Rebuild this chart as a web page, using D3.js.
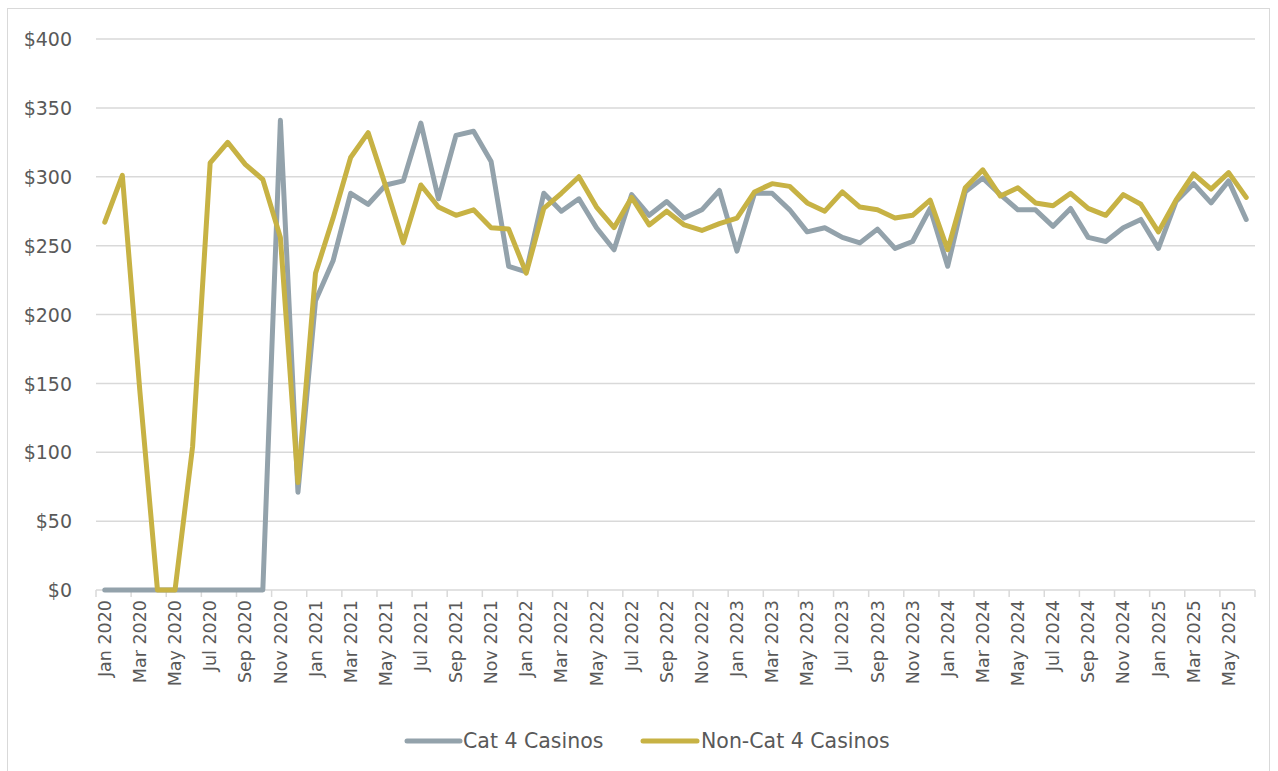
<!DOCTYPE html>
<html>
<head>
<meta charset="utf-8">
<script src="https://cdn.jsdelivr.net/npm/d3@7/dist/d3.min.js"></script>
<style>
  html, body { margin: 0; padding: 0; background: #fff; }
  svg { display: block; font-family: "DejaVu Sans", "Open Sans", sans-serif; }
</style>
</head>
<body>
<svg id="chart" width="1278" height="771"></svg>
<script>
// Monthly categories, Jan 2020 – Jun 2025
const monthNames = ["Jan","Feb","Mar","Apr","May","Jun","Jul","Aug","Sep","Oct","Nov","Dec"];
const years = [2020, 2021, 2022, 2023, 2024, 2025];
const months = [];
years.forEach(y => monthNames.forEach((m, i) => { if (y < 2025 || i < 6) months.push(m + " " + y); }));

// Cat 4 Casinos
const cat4 = [
  0, 0, 0, 0, 0, 0, 0, 0, 0, 0, 341, 71,
  210, 239, 288, 280, 294, 297, 339, 284, 330, 333, 311, 235,
  231, 288, 275, 284, 263, 247, 287, 272, 282, 270, 276, 290,
  246, 288, 288, 276, 260, 263, 256, 252, 262, 248, 253, 277,
  235, 289, 299, 287, 276, 276, 264, 277, 256, 253, 263, 269,
  248, 282, 295, 281, 297, 269
];

// Non-Cat 4 Casinos
const nonCat4 = [
  267, 301, 144, 0, 0, 104, 310, 325, 309, 298, 256, 78,
  230, 270, 314, 332, 293, 252, 294, 278, 272, 276, 263, 262,
  230, 277, 288, 300, 278, 263, 285, 265, 275, 265, 261, 266,
  270, 289, 295, 293, 281, 275, 289, 278, 276, 270, 272, 283,
  247, 292, 305, 286, 292, 281, 279, 288, 277, 272, 287, 280,
  260, 283, 302, 291, 303, 285
];

const yTicks = [0, 50, 100, 150, 200, 250, 300, 350, 400];

const seriesList = [
  { name: "Cat 4 Casinos", values: cat4, color: "#93A2AB" },
  { name: "Non-Cat 4 Casinos", values: nonCat4, color: "#C7B244" }
];

const svg = d3.select("#chart");
const plot = { left: 96, right: 1255, top: 39, bottom: 590 };
const textColor = "#595959";

// Outer chart frame
svg.append("rect")
  .attr("x", 7.5).attr("y", 8.5)
  .attr("width", 1262).attr("height", 775)
  .attr("fill", "none").attr("stroke", "#D9D9D9").attr("stroke-width", 1);

const x = d3.scaleBand().domain(months).range([plot.left, plot.right]).padding(0);
const y = d3.scaleLinear().domain([0, 400]).range([plot.bottom, plot.top]);

// Horizontal gridlines
svg.append("g").selectAll("line")
  .data(yTicks.filter(t => t > 0))
  .join("line")
  .attr("x1", plot.left).attr("x2", plot.right)
  .attr("y1", d => y(d)).attr("y2", d => y(d))
  .attr("stroke", "#D9D9D9").attr("stroke-width", 1.5);

// Y axis labels
const yAxis = d3.axisLeft(y).tickValues(yTicks).tickSize(0).tickPadding(0)
  .tickFormat(d => "$" + d);
svg.append("g")
  .attr("transform", `translate(72,0)`)
  .call(yAxis)
  .call(g => g.select(".domain").remove())
  .call(g => g.selectAll("text")
    .attr("fill", textColor).attr("font-size", 19).attr("font-family", "DejaVu Sans")
    .attr("dy", "0.35em"));

// X axis baseline and tick marks at every other category boundary
const tickPositions = months.filter((m, i) => i % 2 === 0).map(m => x(m));
tickPositions.push(plot.right);
const xg = svg.append("g");
xg.append("line")
  .attr("x1", plot.left).attr("x2", plot.right)
  .attr("y1", plot.bottom).attr("y2", plot.bottom)
  .attr("stroke", "#D9D9D9").attr("stroke-width", 1.5);
xg.selectAll("line.tick")
  .data(tickPositions)
  .join("line")
  .attr("class", "tick")
  .attr("x1", d => d).attr("x2", d => d)
  .attr("y1", plot.bottom).attr("y2", plot.bottom + 7)
  .attr("stroke", "#D9D9D9").attr("stroke-width", 1.5);

// Rotated month labels
xg.selectAll("text")
  .data(months.filter((m, i) => i % 2 === 0))
  .join("text")
  .attr("transform", d => `translate(${x(d) + x.bandwidth() / 2},${plot.bottom + 10}) rotate(-90)`)
  .attr("text-anchor", "end")
  .attr("dy", "0.35em")
  .attr("fill", textColor)
  .attr("font-size", 17.5)
  .text(d => d);

// Series lines
const line = d3.line()
  .x((d, i) => x(months[i]) + x.bandwidth() / 2)
  .y(d => y(d));

svg.append("g").selectAll("path")
  .data(seriesList)
  .join("path")
  .attr("d", s => line(s.values))
  .attr("fill", "none")
  .attr("stroke", s => s.color)
  .attr("stroke-width", 5)
  .attr("stroke-linejoin", "round")
  .attr("stroke-linecap", "round");

// Legend
const legendItems = [
  { s: seriesList[0], x0: 407, x1: 460, tx: 463 },
  { s: seriesList[1], x0: 643, x1: 697, tx: 701 }
];
const lg = svg.append("g");
legendItems.forEach(it => {
  lg.append("line")
    .attr("x1", it.x0).attr("x2", it.x1)
    .attr("y1", 741).attr("y2", 741)
    .attr("stroke", it.s.color).attr("stroke-width", 5)
    .attr("stroke-linecap", "round");
  lg.append("text")
    .attr("x", it.tx).attr("y", 741).attr("dy", "0.35em")
    .attr("fill", textColor).attr("font-size", 20.5)
    .text(it.s.name);
});
</script>
</body>
</html>
